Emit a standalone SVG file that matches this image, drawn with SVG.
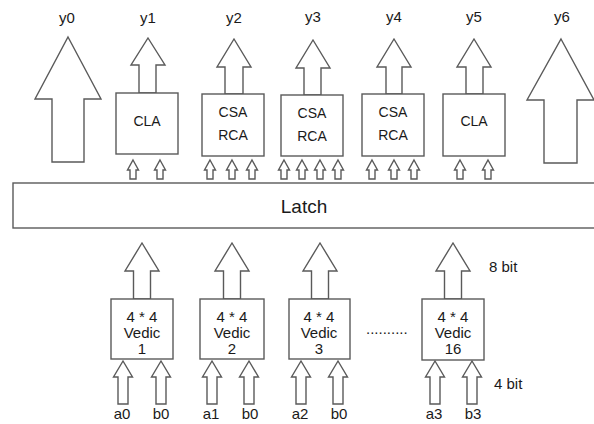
<svg xmlns="http://www.w3.org/2000/svg" width="594" height="424" viewBox="0 0 594 424">
<style>
.s{fill:#fff;stroke:#5a5a5a;stroke-width:1.4;stroke-linejoin:miter}
.t{font-family:"Liberation Sans",Arial,sans-serif;font-size:14px;fill:#1a1a1a;text-anchor:middle}
.v{font-size:15px}
.l{font-family:"Liberation Sans",Arial,sans-serif;font-size:15px;fill:#1a1a1a}
</style>
<rect width="594" height="424" fill="#fff"/>
<g id="connectors">
<polygon class="s" points="68,37 101,99 84,99 84,162 52,162 52,99 35,99"/>
<polygon class="s" points="561,39 594,100 577,100 577,163 544,163 544,100 527,100"/>
<polygon class="s" points="148,38 165,65 156,65 156,93 139,93 139,65 131,65"/>
<polygon class="s" points="234,39 251,67 243,67 243,94 225,94 225,67 217,67"/>
<polygon class="s" points="313,40 330,68 321,68 321,95 304,95 304,68 296,68"/>
<polygon class="s" points="394,39 411,67 402,67 402,94 386,94 386,67 377,67"/>
<polygon class="s" points="474,39 491,67 483,67 483,94 466,94 466,67 457,67"/>
<g id="small">
<polygon class="s" points="133,160 138.5,170 136,170 136,179 130,179 130,170 127.5,170"/>
<polygon class="s" points="160,160 165.5,170 163,170 163,179 157,179 157,170 154.5,170"/>
<polygon class="s" points="210,160 215.5,170 213,170 213,179 207,179 207,170 204.5,170"/>
<polygon class="s" points="232,160 237.5,170 235,170 235,179 229,179 229,170 226.5,170"/>
<polygon class="s" points="252,160 257.5,170 255,170 255,179 249,179 249,170 246.5,170"/>
<polygon class="s" points="284,160 289.5,170 287,170 287,179 281,179 281,170 278.5,170"/>
<polygon class="s" points="302,160 307.5,170 305,170 305,179 299,179 299,170 296.5,170"/>
<polygon class="s" points="320,160 325.5,170 323,170 323,179 317,179 317,170 314.5,170"/>
<polygon class="s" points="338,160 343.5,170 341,170 341,179 335,179 335,170 332.5,170"/>
<polygon class="s" points="372,160 377.5,170 375,170 375,179 369,179 369,170 366.5,170"/>
<polygon class="s" points="394,160 399.5,170 397,170 397,179 391,179 391,170 388.5,170"/>
<polygon class="s" points="414,160 419.5,170 417,170 417,179 411,179 411,170 408.5,170"/>
<polygon class="s" points="460,160 465.5,170 463,170 463,179 457,179 457,170 454.5,170"/>
<polygon class="s" points="488,160 493.5,170 491,170 491,179 485,179 485,170 482.5,170"/>
</g>
<polygon class="s" points="142,243 159,271 150.5,271 150.5,299 133.5,299 133.5,271 125,271"/>
<polygon class="s" points="232,243 249,271 240.5,271 240.5,299 223.5,299 223.5,271 215,271"/>
<polygon class="s" points="320,243 337,271 328.5,271 328.5,299 311.5,299 311.5,271 303,271"/>
<polygon class="s" points="453,243 470,271 461.5,271 461.5,299 444.5,299 444.5,271 436,271"/>
<polygon class="s" points="123,361 132.5,377 128,377 128,404 118,404 118,377 113.5,377"/>
<polygon class="s" points="161,361 170.5,377 166,377 166,404 156,404 156,377 151.5,377"/>
<polygon class="s" points="212,361 221.5,377 217,377 217,404 207,404 207,377 202.5,377"/>
<polygon class="s" points="249,361 258.5,377 254,377 254,404 244,404 244,377 239.5,377"/>
<polygon class="s" points="301,361 310.5,377 306,377 306,404 296,404 296,377 291.5,377"/>
<polygon class="s" points="338,361 347.5,377 343,377 343,404 333,404 333,377 328.5,377"/>
<polygon class="s" points="435,361 444.5,377 440,377 440,404 430,404 430,377 425.5,377"/>
<polygon class="s" points="472,361 481.5,377 477,377 477,404 467,404 467,377 462.5,377"/>
</g>
<g id="labels">
<text class="t v" x="67" y="23">y0</text>
<text class="t v" x="148" y="23">y1</text>
<text class="t v" x="234" y="23">y2</text>
<text class="t v" x="313" y="22">y3</text>
<text class="t v" x="394" y="22">y4</text>
<text class="t v" x="474" y="22">y5</text>
<text class="t v" x="562" y="22">y6</text>
<text class="l" x="489" y="272">8 bit</text>
<text class="l" x="494" y="389">4 bit</text>
<text class="l" x="366" y="334">..........</text>
<text class="t v" x="122" y="419">a0</text>
<text class="t v" x="161" y="419">b0</text>
<text class="t v" x="211" y="419">a1</text>
<text class="t v" x="250" y="419">b0</text>
<text class="t v" x="300" y="419">a2</text>
<text class="t v" x="339" y="419">b0</text>
<text class="t v" x="434" y="419">a3</text>
<text class="t v" x="473" y="419">b3</text>
</g>
<g id="cla1"><rect class="s" x="116" y="93" width="62" height="61"/><text class="t" x="147" y="126">CLA</text></g>
<g id="csa2"><rect class="s" x="202" y="94" width="62" height="62"/><text class="t" x="233" y="117">CSA</text><text class="t" x="233" y="140">RCA</text></g>
<g id="csa3"><rect class="s" x="281" y="95" width="62" height="61"/><text class="t" x="312" y="118">CSA</text><text class="t" x="312" y="141">RCA</text></g>
<g id="csa4"><rect class="s" x="362" y="94" width="62" height="62"/><text class="t" x="393" y="117">CSA</text><text class="t" x="393" y="140">RCA</text></g>
<g id="cla5"><rect class="s" x="443" y="94" width="62" height="62"/><text class="t" x="474" y="126">CLA</text></g>
<g id="latch"><rect class="s" x="13" y="183" width="590" height="45"/><text class="t" x="304" y="213" style="font-size:19px">Latch</text></g>
<g id="vedic1"><rect class="s" x="111" y="299" width="62" height="60"/><text class="t v" x="142" y="322">4 * 4</text><text class="t v" x="142" y="338">Vedic</text><text class="t v" x="142" y="354">1</text></g>
<g id="vedic2"><rect class="s" x="200" y="299" width="64" height="60"/><text class="t v" x="232" y="322">4 * 4</text><text class="t v" x="232" y="338">Vedic</text><text class="t v" x="232" y="354">2</text></g>
<g id="vedic3"><rect class="s" x="289" y="299" width="61" height="60"/><text class="t v" x="319" y="322">4 * 4</text><text class="t v" x="319" y="338">Vedic</text><text class="t v" x="319" y="354">3</text></g>
<g id="vedic16"><rect class="s" x="422" y="299" width="62" height="61"/><text class="t v" x="453" y="322">4 * 4</text><text class="t v" x="453" y="338">Vedic</text><text class="t v" x="453" y="354">16</text></g>
</svg>
